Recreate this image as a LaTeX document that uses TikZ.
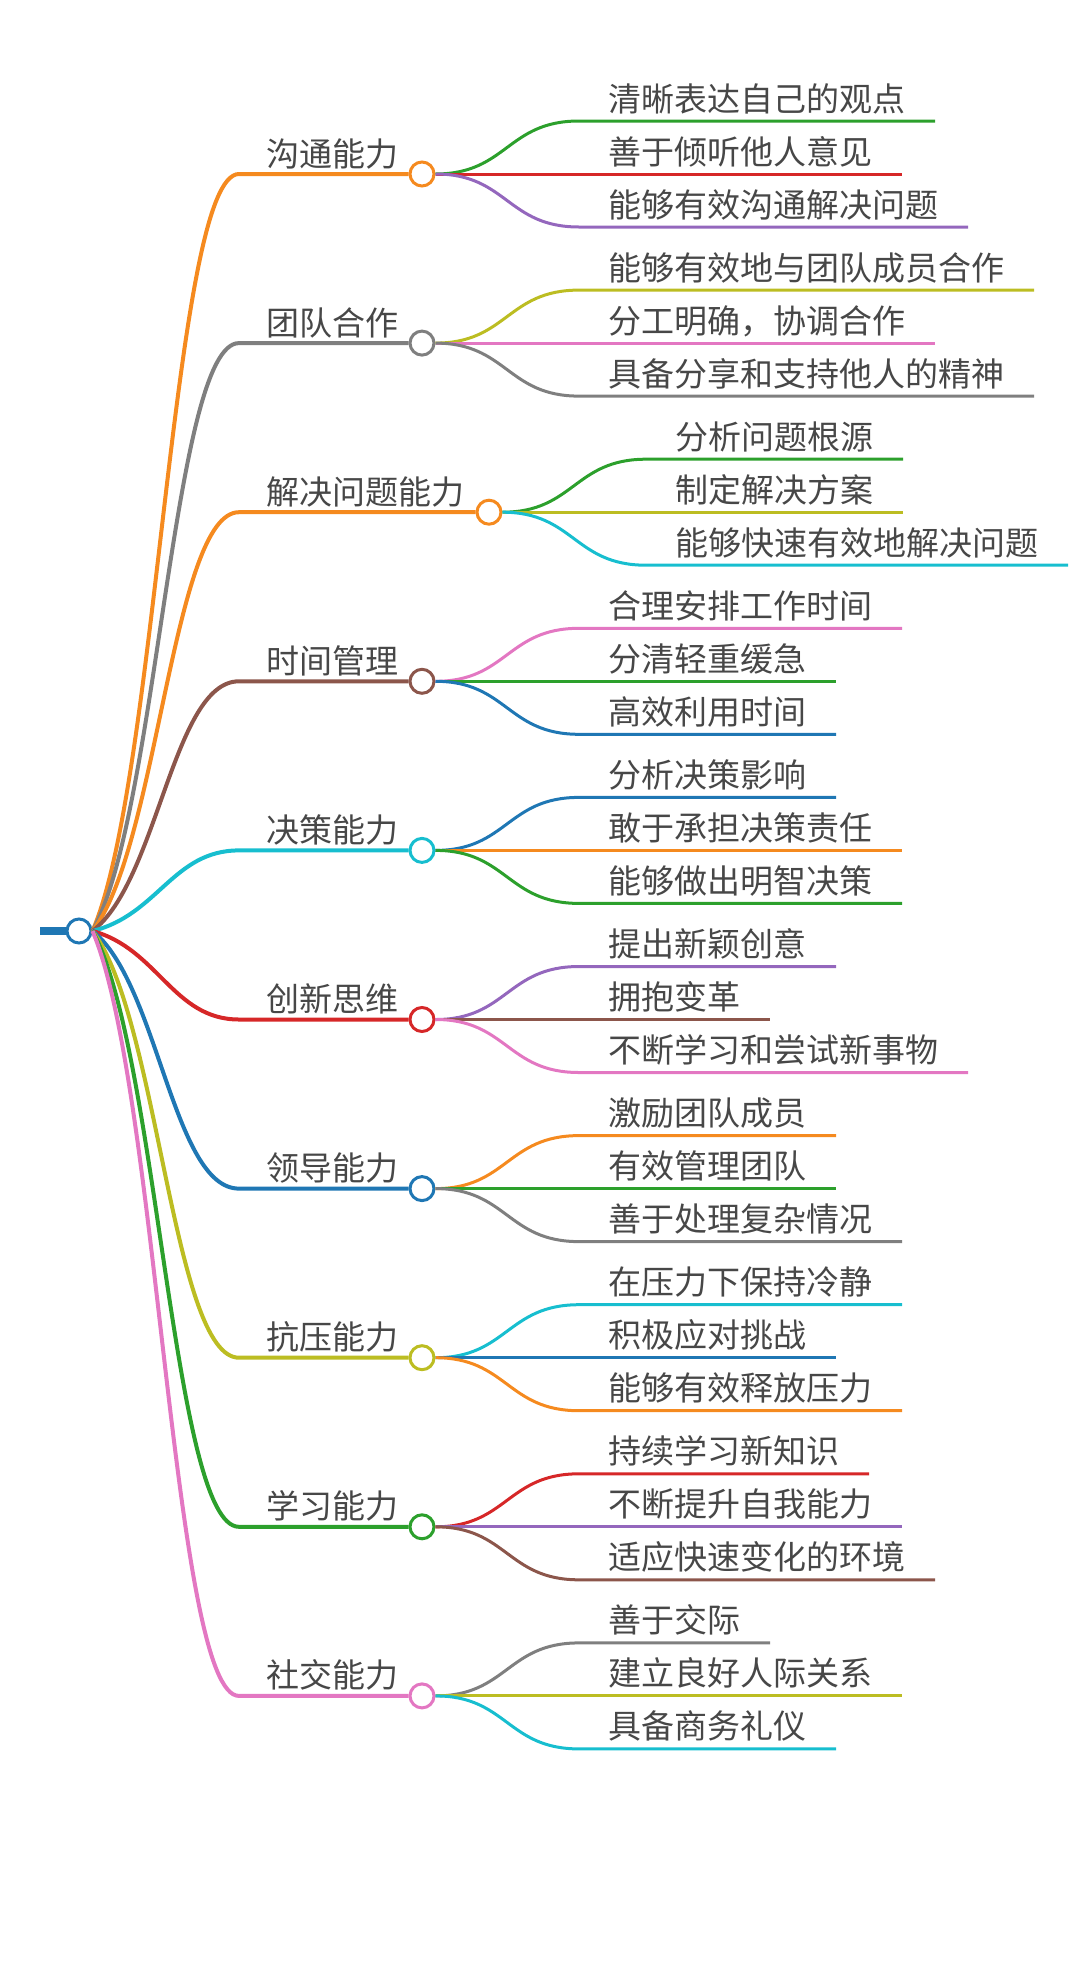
\documentclass[tikz,border=0pt]{standalone}
\usepackage{fontspec}
\setmainfont{Noto Sans CJK SC}
\usetikzlibrary{calc}
\definecolor{cblue}{HTML}{1F77B4}
\definecolor{corange}{HTML}{F58A1F}
\definecolor{cgreen}{HTML}{2CA02C}
\definecolor{cred}{HTML}{D62728}
\definecolor{cpurple}{HTML}{9467BD}
\definecolor{cbrown}{HTML}{8C564B}
\definecolor{cpink}{HTML}{E377C2}
\definecolor{cgray}{HTML}{7F7F7F}
\definecolor{colive}{HTML}{BCBD22}
\definecolor{ccyan}{HTML}{17BECF}
\definecolor{txt}{HTML}{474747}
\begin{document}
\begin{tikzpicture}[x=0.5pt,y=-0.5pt,
  lbl/.style={anchor=base west, inner sep=0pt, outer sep=0pt, text=txt, font=\fontsize{16.5pt}{20pt}\selectfont},
  dot/.style={circle, draw=#1, fill=white, line width=1.5pt, minimum size=12pt, inner sep=0pt},
  mainline/.style={draw=#1, line width=2pt},
  subline/.style={draw=#1, line width=1.5pt}]
\useasboundingbox (0,0) rectangle (1080,1976);
% root
\node[dot=cblue] (root) at (79,931) {};
\coordinate (rootstub) at (40,931);
\draw[cblue, line width=4pt] (rootstub) -- (root.west);
% main branches
\foreach \i/\y/\c/\t/\cx in {
  1/174/corange/沟通能力/422,
  2/343.1/cgray/团队合作/422,
  3/512.2/corange/解决问题能力/489,
  4/681.3/cbrown/时间管理/422,
  5/850.4/ccyan/决策能力/422,
  6/1019.5/cred/创新思维/422,
  7/1188.6/cblue/领导能力/422,
  8/1357.7/colive/抗压能力/422,
  9/1526.8/cgreen/学习能力/422,
  10/1695.9/cpink/社交能力/422}{
  \pgfmathsetmacro\pay{931+0.2*(\y-931)}
  \node[dot=\c] (m\i) at (\cx,\y) {};
  \node[lbl] (mt\i) at (266,\y-8) {\t};
  \coordinate (k\i) at (239,\y);
  \draw[mainline=\c] (root.east) .. controls (158,\pay) and (173,\y) .. (k\i) -- (m\i.west);
}
% sub branches
\foreach \i/\j/\dy/\c/\t in {
  1/1/-53/cgreen/清晰表达自己的观点,
  1/2/0/cred/善于倾听他人意见,
  1/3/53/cpurple/能够有效沟通解决问题,
  2/1/-53/colive/能够有效地与团队成员合作,
  2/2/0/cpink/分工明确，协调合作,
  2/3/53/cgray/具备分享和支持他人的精神,
  3/1/-53/cgreen/分析问题根源,
  3/2/0/colive/制定解决方案,
  3/3/53/ccyan/能够快速有效地解决问题,
  4/1/-53/cpink/合理安排工作时间,
  4/2/0/cgreen/分清轻重缓急,
  4/3/53/cblue/高效利用时间,
  5/1/-53/cblue/分析决策影响,
  5/2/0/corange/敢于承担决策责任,
  5/3/53/cgreen/能够做出明智决策,
  6/1/-53/cpurple/提出新颖创意,
  6/2/0/cbrown/拥抱变革,
  6/3/53/cpink/不断学习和尝试新事物,
  7/1/-53/corange/激励团队成员,
  7/2/0/cgreen/有效管理团队,
  7/3/53/cgray/善于处理复杂情况,
  8/1/-53/ccyan/在压力下保持冷静,
  8/2/0/cblue/积极应对挑战,
  8/3/53/corange/能够有效释放压力,
  9/1/-53/cred/持续学习新知识,
  9/2/0/cpurple/不断提升自我能力,
  9/3/53/cbrown/适应快速变化的环境,
  10/1/-53/cgray/善于交际,
  10/2/0/colive/建立良好人际关系,
  10/3/53/ccyan/具备商务礼仪}{
  \coordinate (s\i-\j) at ($(m\i)+(157,\dy)$);
  \node[lbl] (st\i-\j) at ($(m\i)+(186,\dy-10)$) {\t};
  \draw[subline=\c] (m\i.east) .. controls ($(m\i)+(85,0)$) and ($(m\i)+(85,\dy)$) .. (s\i-\j) -- ($(s\i-\j -| st\i-\j.east)+(30,0)$);
}
\end{tikzpicture}
\end{document}
